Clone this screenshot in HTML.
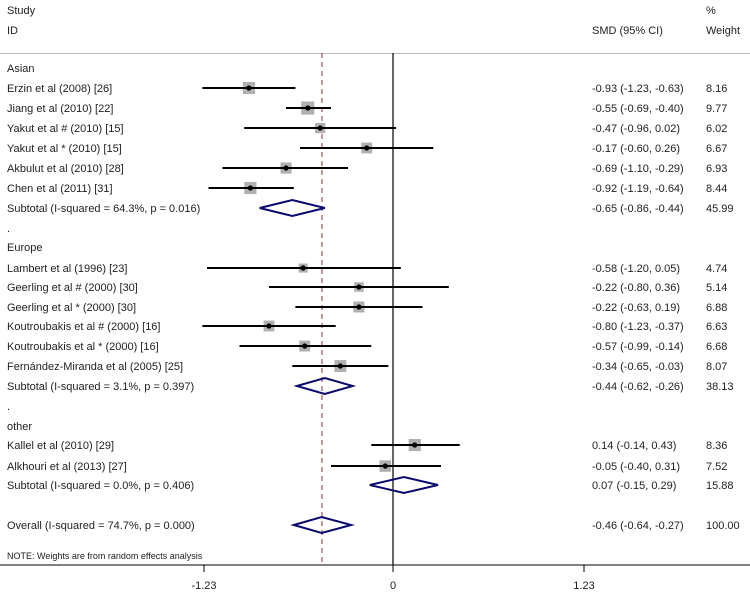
<!DOCTYPE html>
<html><head><meta charset="utf-8"><style>
body{margin:0;background:#fff}
svg text{font-family:"Liberation Sans",Arial,sans-serif;font-size:11px;fill:#222}
</style></head><body>
<svg width="750" height="592" xmlns="http://www.w3.org/2000/svg">
<rect width="750" height="592" fill="#fff"/>
<text x="7" y="14">Study</text><text x="7" y="34">ID</text>
<text x="592" y="34">SMD (95% CI)</text>
<text x="706" y="14">%</text><text x="706" y="34">Weight</text>
<line x1="0" y1="53.5" x2="750" y2="53.5" stroke="#bbb"/>
<line x1="393" y1="53" x2="393" y2="565" stroke="#000" stroke-width="1.2"/>
<line x1="322" y1="53" x2="322" y2="565" stroke="#8b3a3a" stroke-dasharray="5,4"/>
<line x1="0" y1="565" x2="750" y2="565" stroke="#000"/>
<g stroke="#000"><line x1="204" y1="565" x2="204" y2="572"/><line x1="393" y1="565" x2="393" y2="572"/><line x1="584" y1="565" x2="584" y2="572"/></g>
<text x="204" y="589" text-anchor="middle">-1.23</text><text x="393" y="589" text-anchor="middle">0</text><text x="584" y="589" text-anchor="middle">1.23</text>

<text x="7" y="72">Asian</text>
<text x="7" y="92">Erzin et al (2008) [26]</text>
<text x="7" y="112">Jiang et al (2010) [22]</text>
<text x="7" y="132">Yakut et al # (2010) [15]</text>
<text x="7" y="152">Yakut et al * (2010) [15]</text>
<text x="7" y="172">Akbulut et al (2010) [28]</text>
<text x="7" y="192">Chen et al (2011) [31]</text>
<text x="7" y="212">Subtotal  (I-squared = 64.3%, p = 0.016)</text>
<text x="7" y="232">.</text>
<text x="7" y="251">Europe</text>
<text x="7" y="272">Lambert et al (1996) [23]</text>
<text x="7" y="291">Geerling et al # (2000) [30]</text>
<text x="7" y="311">Geerling et al * (2000) [30]</text>
<text x="7" y="330">Koutroubakis et al # (2000) [16]</text>
<text x="7" y="350">Koutroubakis et al * (2000) [16]</text>
<text x="7" y="370">Fernández-Miranda et al (2005) [25]</text>
<text x="7" y="390">Subtotal  (I-squared = 3.1%, p = 0.397)</text>
<text x="7" y="410">.</text>
<text x="7" y="430">other</text>
<text x="7" y="449">Kallel et al (2010) [29]</text>
<text x="7" y="470">Alkhouri et al (2013) [27]</text>
<text x="7" y="489">Subtotal  (I-squared = 0.0%, p = 0.406)</text>
<text x="7" y="529">Overall  (I-squared = 74.7%, p = 0.000)</text>
<text x="7" y="559" style="font-size:9px">NOTE: Weights are from random effects analysis</text>

<g>
<text x="592" y="92">-0.93 (-1.23, -0.63)</text><text x="706" y="92">8.16</text>
<text x="592" y="112">-0.55 (-0.69, -0.40)</text><text x="706" y="112">9.77</text>
<text x="592" y="132">-0.47 (-0.96, 0.02)</text><text x="706" y="132">6.02</text>
<text x="592" y="152">-0.17 (-0.60, 0.26)</text><text x="706" y="152">6.67</text>
<text x="592" y="172">-0.69 (-1.10, -0.29)</text><text x="706" y="172">6.93</text>
<text x="592" y="192">-0.92 (-1.19, -0.64)</text><text x="706" y="192">8.44</text>
<text x="592" y="212">-0.65 (-0.86, -0.44)</text><text x="706" y="212">45.99</text>
<text x="592" y="272">-0.58 (-1.20, 0.05)</text><text x="706" y="272">4.74</text>
<text x="592" y="291">-0.22 (-0.80, 0.36)</text><text x="706" y="291">5.14</text>
<text x="592" y="311">-0.22 (-0.63, 0.19)</text><text x="706" y="311">6.88</text>
<text x="592" y="330">-0.80 (-1.23, -0.37)</text><text x="706" y="330">6.63</text>
<text x="592" y="350">-0.57 (-0.99, -0.14)</text><text x="706" y="350">6.68</text>
<text x="592" y="370">-0.34 (-0.65, -0.03)</text><text x="706" y="370">8.07</text>
<text x="592" y="390">-0.44 (-0.62, -0.26)</text><text x="706" y="390">38.13</text>
<text x="592" y="449">0.14 (-0.14, 0.43)</text><text x="706" y="449">8.36</text>
<text x="592" y="470">-0.05 (-0.40, 0.31)</text><text x="706" y="470">7.52</text>
<text x="592" y="489">0.07 (-0.15, 0.29)</text><text x="706" y="489">15.88</text>
<text x="592" y="529">-0.46 (-0.64, -0.27)</text><text x="706" y="529">100.00</text>
</g>

<g fill="#b0b0b0">
<rect x="242.9" y="82" width="12" height="12"/>
<rect x="301.2" y="101.5" width="13.1" height="13.1"/>
<rect x="315" y="122.9" width="10.3" height="10.3"/>
<rect x="361.3" y="142.6" width="10.8" height="10.8"/>
<rect x="280.5" y="162.5" width="11.1" height="11.1"/>
<rect x="244.3" y="181.9" width="12.2" height="12.2"/>
<rect x="298.6" y="263.5" width="9.1" height="9.1"/>
<rect x="354.2" y="282.3" width="9.5" height="9.5"/>
<rect x="353.4" y="301.5" width="11" height="11"/>
<rect x="263.6" y="320.6" width="10.8" height="10.8"/>
<rect x="299.2" y="340.6" width="10.9" height="10.9"/>
<rect x="334.4" y="360.1" width="11.9" height="11.9"/>
<rect x="408.7" y="439" width="12.1" height="12.1"/>
<rect x="379.5" y="460.3" width="11.5" height="11.5"/>
</g>
<g stroke="#000" stroke-width="2">
<line x1="202.4" y1="88" x2="295.4" y2="88"/>
<line x1="286" y1="108" x2="331" y2="108"/>
<line x1="244.2" y1="128" x2="396.1" y2="128"/>
<line x1="300" y1="148" x2="433.3" y2="148"/>
<line x1="222.5" y1="168" x2="348" y2="168"/>
<line x1="208.5" y1="188" x2="293.8" y2="188"/>
<line x1="207" y1="268" x2="400.8" y2="268"/>
<line x1="269" y1="287" x2="448.8" y2="287"/>
<line x1="295.4" y1="307" x2="422.5" y2="307"/>
<line x1="202.4" y1="326" x2="335.7" y2="326"/>
<line x1="239.5" y1="346" x2="371.3" y2="346"/>
<line x1="292.3" y1="366" x2="388.4" y2="366"/>
<line x1="371.3" y1="445" x2="459.7" y2="445"/>
<line x1="331" y1="466" x2="441" y2="466"/>
</g>
<g fill="#000">
<circle cx="248.9" cy="88" r="2.6"/><circle cx="307.8" cy="108" r="2.6"/><circle cx="320.2" cy="128" r="2.6"/>
<circle cx="366.7" cy="148" r="2.6"/><circle cx="286" cy="168" r="2.6"/><circle cx="250.4" cy="188" r="2.6"/>
<circle cx="303.1" cy="268" r="2.6"/><circle cx="358.9" cy="287" r="2.6"/><circle cx="358.9" cy="307" r="2.6"/>
<circle cx="269" cy="326" r="2.6"/><circle cx="304.7" cy="346" r="2.6"/><circle cx="340.3" cy="366" r="2.6"/>
<circle cx="414.7" cy="445" r="2.6"/><circle cx="385.3" cy="466" r="2.6"/>
</g>
<g fill="none" stroke="#0a0a6e" stroke-width="2">
<polygon points="259.7,208 292.3,200 324.8,208 292.3,216"/>
<polygon points="296.9,386 324.8,378 352.7,386 324.8,394"/>
<polygon points="369.8,485 403.9,477 438,485 403.9,493"/>
<polygon points="293.8,525 321.7,517 351.2,525 321.7,533"/>
</g>
</svg>
</body></html>
